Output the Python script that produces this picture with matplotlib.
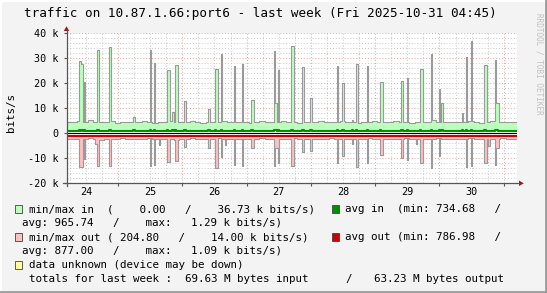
import numpy as np
import matplotlib
matplotlib.use("Agg")
import matplotlib.pyplot as plt
from matplotlib.patches import Rectangle, Polygon

# chart window: last week ending Fri 2025-10-31 04:45, 30 min steps
t0 = 24 + 4.75 / 24
step = 1 / 48
n = 336

# 2-hour baseline of max in / max out (k bits/s)
in_max_base = [
    4.6, 4.4, 4.9, 4.5, 5.2, 4.7, 4.4, 4.6, 4.8, 4.3, 4.5, 4.7,
    4.4, 4.6, 5.0, 4.5, 4.3, 4.6, 4.4, 4.8, 4.5, 4.4, 4.6, 4.9,
    4.5, 4.3, 4.7, 4.4, 4.6, 5.1, 4.5, 4.4, 4.7, 4.5, 4.3, 4.6,
    4.8, 4.4, 4.6, 4.5, 4.9, 4.4, 4.6, 4.3, 4.7, 4.5, 4.4, 4.8,
    4.6, 4.4, 4.5, 4.9, 4.4, 4.6, 4.3, 4.7, 4.5, 5.0, 4.4, 4.6,
    4.5, 4.8, 4.4, 4.6, 4.3, 4.7, 4.5, 4.4, 5.2, 4.6, 4.4, 4.5,
    4.7, 4.4, 4.6, 4.9, 4.5, 4.3, 4.6, 4.8, 4.4, 4.5, 4.7, 4.4]
out_max_base = [
    -2.2, -2.4, -2.1, -2.3, -2.0, -2.2, -2.5, -2.1, -2.3, -2.2, -2.0, -2.4,
    -2.1, -2.3, -2.2, -2.0, -2.4, -2.2, -2.1, -2.3, -2.5, -2.1, -2.2, -2.0,
    -2.3, -2.1, -2.4, -2.2, -2.0, -2.3, -2.2, -2.1, -2.4, -2.2, -2.3, -2.1,
    -2.0, -2.2, -2.3, -2.1, -2.4, -2.2, -2.0, -2.3, -2.1, -2.2, -2.4, -2.1,
    -2.2, -2.0, -2.3, -2.2, -2.1, -2.4, -2.2, -2.3, -2.0, -2.2, -2.1, -2.3,
    -2.4, -2.1, -2.2, -2.0, -2.3, -2.2, -2.1, -2.4, -2.2, -2.0, -2.3, -2.1,
    -2.2, -2.3, -2.1, -2.0, -2.4, -2.2, -2.1, -2.3, -2.2, -2.0, -2.2, -2.3]
in_min = 0.73
out_min = -0.79
avg_in = 0.95
avg_in_hi = 1.29
avg_out = -0.88
avg_out_hi = -1.09

# peaks: time (day of month), value (k bits/s), width (samples)
in_spk_t = [24.395, 24.437, 24.489, 24.696, 24.867, 25.256, 25.494, 25.567,
            25.769, 25.862, 25.894, 26.044, 26.422, 26.516, 26.605, 26.811,
            26.931, 27.076, 27.434, 27.465, 27.500, 27.714, 27.880, 28.009,
            28.418, 28.502, 28.647, 28.717, 28.880, 29.090, 29.425, 29.498,
            29.705, 29.871, 30.000, 30.042, 30.363, 30.416, 30.498, 30.700,
            30.871, 30.895]
in_spk_v = [28.8, 27.6, 20.5, 33.2, 34.5, 6.4, 33.2, 28.0,
            25.2, 8.5, 27.2, 12.8, 9.6, 25.9, 31.9, 26.8,
            27.6, 13.2, 32.8, 12.0, 25.2, 34.8, 26.5, 14.1,
            26.8, 20.1, 5.2, 27.9, 26.8, 20.4, 20.8, 22.3,
            25.9, 31.6, 17.9, 12.0, 8.1, 30.5, 36.73, 27.5,
            29.2, 12.1]
in_spk_w = [2, 1, 1, 1, 1, 1, 1, 1,
            2, 1, 2, 1, 1, 2, 1, 1,
            1, 2, 1, 1, 1, 2, 1, 1,
            1, 1, 1, 2, 1, 2, 1, 1,
            2, 1, 1, 1, 1, 1, 1, 2,
            1, 2]

out_spk_t = [24.395, 24.489, 24.649, 24.696, 24.867, 25.494, 25.567, 25.645,
             25.769, 25.894, 26.044, 26.422, 26.516, 26.605, 26.671, 26.811,
             26.931, 27.076, 27.434, 27.465, 27.500, 27.714, 27.880, 28.009,
             28.418, 28.502, 28.647, 28.717, 28.880, 29.090, 29.425, 29.498,
             29.643, 29.705, 29.871, 30.000, 30.416, 30.498, 30.700, 30.778,
             30.871, 30.895]
out_spk_v = [-13.5, -10.1, -4.4, -13.0, -13.0, -13.0, -12.6, -4.5,
             -11.5, -11.0, -5.5, -6.0, -14.0, -9.5, -4.5, -12.6,
             -12.9, -6.0, -12.9, -6.0, -11.7, -13.0, -7.5, -6.9,
             -11.7, -9.0, -4.3, -13.4, -12.0, -8.5, -9.8, -10.5,
             -4.3, -12.0, -14.0, -9.1, -13.4, -13.0, -11.7, -5.0,
             -12.7, -5.8]
out_spk_w = [3, 1, 2, 1, 1, 1, 1, 1,
             2, 2, 1, 1, 2, 1, 1, 1,
             1, 2, 1, 2, 1, 2, 1, 1,
             1, 1, 1, 2, 1, 2, 1, 1,
             1, 2, 1, 1, 1, 1, 2, 1,
             1, 2]
avg_out_hi_t = [24.400, 24.649, 27.770]

day_labels = ["24", "25", "26", "27", "28", "29", "30"]


def series(base, times, vals, widths):
    arr = np.repeat(np.array(base, dtype=float), 4)
    for ts, v, w in zip(times, vals, widths):
        i = int((ts - t0) / step)
        arr[i:i + w] = v
    return arr


def bumps(level, hi, times, w=1):
    arr = np.full(n, level)
    for ts in times:
        i = int((ts - t0) / step)
        arr[i:i + w] = hi
    return arr


x = t0 + np.arange(n + 1) * step
inmax = series(in_max_base, in_spk_t, in_spk_v, in_spk_w)
outmax = series(out_max_base, out_spk_t, out_spk_v, out_spk_w)
inavg = bumps(avg_in, avg_in_hi, in_spk_t)
outavg = bumps(avg_out, avg_out_hi, avg_out_hi_t, 2)


def ext(a):
    return np.append(a, a[-1])


W, H = 547, 293
fig = plt.figure(figsize=(W / 100, H / 100), dpi=100, facecolor="#f3f3f3")
ax = fig.add_axes([66.5 / W, (H - 183.3) / H, 450 / W, 150 / H])
ax.set_facecolor("white")

mono = "DejaVu Sans Mono"

# grid
for v in np.arange(-20, 41, 2):
    if v % 10:
        ax.axhline(v, color="#c8c8c8", lw=0.7, ls=(0, (1, 2)), zorder=0)
    else:
        ax.axhline(v, color="#e8a0a0", lw=0.7, ls=(0, (1, 2)), zorder=0.5)
for d in np.arange(24, 31.3, 0.25):
    if d < t0 or d > t0 + 7:
        continue
    if d % 1:
        ax.axvline(d, color="#c8c8c8", lw=0.7, ls=(0, (1, 2)), zorder=0)
    else:
        ax.axvline(d, color="#e8a0a0", lw=0.7, ls=(0, (1, 2)), zorder=0.5)

# areas
ax.fill_between(x, in_min, ext(inmax), step="post", color="#bbffbb", lw=0, zorder=1)
ax.fill_between(x, out_min, ext(outmax), step="post", color="#ffc0c0", lw=0, zorder=1)
ax.step(x, ext(inmax), where="post", color="#9a9a9a", lw=0.8, zorder=2)
ax.step(x, ext(outmax), where="post", color="#9a9a9a", lw=0.8, zorder=2)
ax.step(x, ext(inavg), where="post", color="#009000", lw=1.5, zorder=3)
ax.axhline(0, color="black", lw=0.8, zorder=3)
ax.step(x, ext(outavg), where="post", color="#cc0000", lw=1.5, zorder=3)

ax.set_xlim(t0, t0 + 7)
ax.set_ylim(-20, 40)
for s in ax.spines.values():
    s.set_visible(False)
ax.set_xticks(np.arange(25, 32))
ax.set_xticklabels([])
ax.set_yticks(np.arange(-20, 41, 10))
ax.set_yticklabels(["-20 k", "-10 k", "0", "10 k", "20 k", "30 k", "40 k"],
                   family=mono, fontsize=7.3)
ax.tick_params(length=2, width=0.8, color="#555555", pad=3.5)
for i, lab in enumerate(day_labels):
    ax.text(24.5 + i, -0.058, lab, transform=ax.get_xaxis_transform(),
            ha="center", va="center", family=mono, fontsize=7.3)

# overlay in pixel coordinates for frame, axes arrows and texts
ov = fig.add_axes([0, 0, 1, 1], zorder=5)
ov.set_xlim(0, W)
ov.set_ylim(H, 0)
ov.axis("off")
ov.patch.set_alpha(0)

ov.plot([0.5, W - 1], [0.8, 0.8], color="#ffffff", lw=1.5)
ov.plot([0.8, 0.8], [0.5, H - 1], color="#ffffff", lw=1.5)
ov.plot([0, W], [H - 1, H - 1], color="#9c9c9c", lw=2)
ov.plot([W - 1, W - 1], [0, H], color="#9c9c9c", lw=2)

ov.plot([66.5, 66.5], [186, 30], color="#555555", lw=0.9)
ov.plot([63, 519], [183.3, 183.3], color="#555555", lw=0.9)
ov.add_patch(Polygon([(63.8, 31), (69.2, 31), (66.5, 26.2)], closed=True,
                     color="#a01818", lw=0))
ov.add_patch(Polygon([(519, 180.6), (519, 186), (523.8, 183.3)], closed=True,
                     color="#a01818", lw=0))

ov.text(260, 13, "traffic on 10.87.1.66:port6 - last week (Fri 2025-10-31 04:45)",
        ha="center", va="center", family=mono, fontsize=9.1)
ov.text(11, 113, "bits/s", rotation=90, ha="center", va="center",
        family=mono, fontsize=7.8)
ov.text(539, 64, "RRDTOOL / TOBI OETIKER", rotation=-90, ha="center",
        va="center", family=mono, fontsize=5.5, color="#c0c0c0")

fs = 7.8


def square(px, py, color):
    ov.add_patch(Rectangle((px, py - 3.6), 7.2, 7.2, facecolor=color,
                           edgecolor="#404040", lw=0.6))


rows = [209, 222.5, 237, 250.5, 265, 279]
square(15, rows[0], "#bbffbb")
ov.text(29, rows[0], "min/max in  (    0.00   /    36.73 k bits/s)",
        va="center", family=mono, fontsize=fs)
square(331.5, rows[0], "#009000")
ov.text(345, rows[0], "avg in  (min: 734.68   /", va="center", family=mono, fontsize=fs)
ov.text(22.3, rows[1], "avg: 965.74   /    max:   1.29 k bits/s)",
        va="center", family=mono, fontsize=fs)
square(15, rows[2], "#ffc0c0")
ov.text(29, rows[2], "min/max out ( 204.80   /    14.00 k bits/s)",
        va="center", family=mono, fontsize=fs)
square(331.5, rows[2], "#cc0000")
ov.text(345, rows[2], "avg out (min: 786.98   /", va="center", family=mono, fontsize=fs)
ov.text(22.3, rows[3], "avg: 877.00   /    max:   1.09 k bits/s)",
        va="center", family=mono, fontsize=fs)
square(15, rows[4], "#ffffa0")
ov.text(29, rows[4], "data unknown (device may be down)",
        va="center", family=mono, fontsize=fs)
ov.text(29, rows[5], "totals for last week :  69.63 M bytes input",
        va="center", family=mono, fontsize=fs)
ov.text(349, rows[5], "/", ha="center", va="center", family=mono, fontsize=fs)
ov.text(374, rows[5], "63.23 M bytes output", va="center", family=mono, fontsize=fs)

fig.savefig("out.png", dpi=100, facecolor=fig.get_facecolor())
